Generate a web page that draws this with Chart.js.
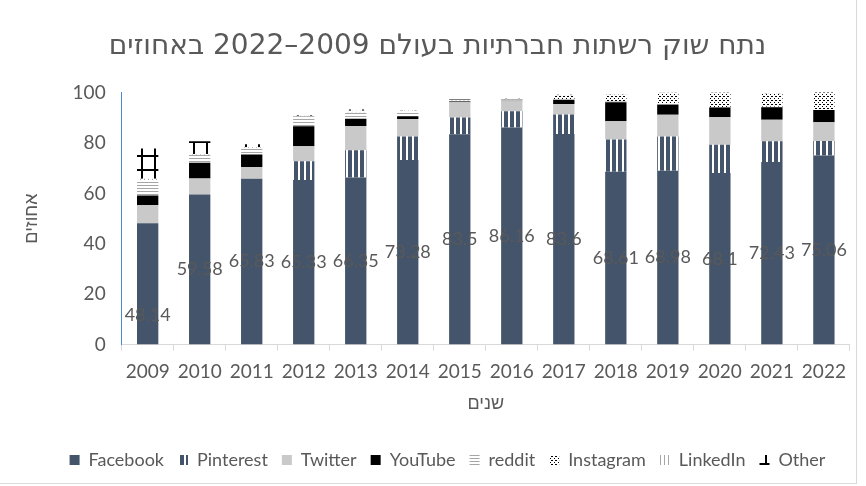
<!DOCTYPE html>
<html>
<head>
<meta charset="utf-8">
<script src="https://cdn.jsdelivr.net/npm/chart.js@4.4.1/dist/chart.umd.min.js"></script>
<style>
  body { margin: 0; background: #ffffff; }
  #wrap { position: relative; width: 856px; height: 483px; border-right: 1px solid #d9d9d9; border-bottom: 1px solid #d9d9d9; }
</style>
</head>
<body>
<div id="wrap"><canvas id="marketChart"></canvas></div>
<script>
// שנים
var years = ['2009', '2010', '2011', '2012', '2013', '2014', '2015', '2016', '2017', '2018', '2019', '2020', '2021', '2022'];

// נתח שוק לפי רשת (באחוזים)
var facebook  = [48.14, 59.58, 65.83, 65.33, 66.35, 73.28, 83.5, 86.16, 83.6, 68.61, 68.98, 68.1, 72.43, 75.06];
var pinterest = [0, 0, 0, 7.4, 10.8, 9.3, 6.6, 6.4, 7.7, 12.8, 13.6, 11.2, 8.3, 5.7];
var twitter   = [7.3, 6.3, 4.6, 6.0, 9.6, 6.9, 6.1, 4.0, 4.2, 7.2, 8.6, 11.0, 8.5, 7.5];
var youtube   = [3.7, 6.3, 5.0, 7.9, 2.9, 1.1, 0.3, 0.2, 1.7, 7.6, 4.0, 3.8, 5.0, 4.8];
var reddit    = [6.2, 3.2, 2.6, 4.0, 2.6, 2.0, 0.4, 0.3, 0.3, 0.3, 0.3, 0.2, 0.2, 0.2];
var instagram = [0, 0, 0, 0, 0.3, 0.1, 0.1, 0.1, 1.3, 2.6, 4.5, 5.7, 5.0, 7.1];
var linkedin  = [0.5, 0.3, 0.3, 0.2, 0.2, 0.2, 0.1, 0.1, 0.1, 0.1, 0.1, 0.1, 0.1, 0.1];
var other     = [12.0, 5.0, 1.2, 0.3, 0.5, 0.2, 0.2, 0.3, 0.2, 0.1, 0.1, 0.1, 0.1, 0.1];

var yTicks = [0, 20, 40, 60, 80, 100];

var titleText = 'נתח שוק רשתות חברתיות בעולם 2009–2022 באחוזים';
var yTitle = 'אחוזים';
var xTitle = 'שנים';

var grey = '#595959';

// excel-like fill patterns
function makePattern(w, h, draw) {
    var c = document.createElement('canvas');
    c.width = w;
    c.height = h;
    var g = c.getContext('2d');
    draw(g);
    return g.createPattern(c, 'repeat');
}

var pinterestFill = makePattern(6, 6, function (g) {
    g.fillStyle = '#44546a'; g.fillRect(0, 0, 6, 6);
    g.fillStyle = '#ffffff'; g.fillRect(4, 0, 2, 6);
});
var redditFill = makePattern(4, 3, function (g) {
    g.fillStyle = '#ffffff'; g.fillRect(0, 0, 4, 3);
    g.fillStyle = '#a6a6a6'; g.fillRect(0, 2, 4, 1);
});
var instagramFill = makePattern(4, 4, function (g) {
    g.fillStyle = '#ffffff'; g.fillRect(0, 0, 4, 4);
    g.fillStyle = '#000000'; g.fillRect(0, 0, 1, 1); g.fillRect(2, 2, 1, 1); g.fillRect(3, 0, 1, 1);
});
var linkedinFill = makePattern(4, 4, function (g) {
    g.fillStyle = '#ffffff'; g.fillRect(0, 0, 4, 4);
    g.fillStyle = '#a6a6a6'; g.fillRect(0, 0, 1, 4);
});
var otherFill = makePattern(13, 14, function (g) {
    g.fillStyle = '#ffffff'; g.fillRect(0, 0, 13, 14);
    g.fillStyle = '#000000'; g.fillRect(11, 0, 2, 14); g.fillRect(0, 1, 13, 2);
});

// facebook value labels in the middle of the segment
var facebookLabels = {
    id: 'facebookLabels',
    afterDatasetsDraw: function (chart) {
        var ctx = chart.ctx;
        var meta = chart.getDatasetMeta(0);
        ctx.save();
        ctx.font = '18px Lato, "Liberation Sans", sans-serif';
        ctx.fillStyle = grey;
        ctx.textAlign = 'center';
        ctx.textBaseline = 'middle';
        meta.data.forEach(function (bar, i) {
            var shift = i === 0 ? 31 : 0;
            ctx.fillText(String(facebook[i]), bar.x, (bar.y + bar.base) / 2 + shift);
        });
        ctx.restore();
    }
};

// legend sits a bit right of centre in the original
var legendNudge = {
    id: 'legendNudge',
    afterLayout: function (chart) {
        chart.legend.left += 10;
        chart.legend.right += 10;
    }
};

var ctxEl = document.getElementById('marketChart');
var marketChart = new Chart(ctxEl, {
    type: 'bar',
    data: {
        labels: years,
        datasets: [
            { label: 'Facebook', data: facebook, backgroundColor: '#44546a' },
            { label: 'Pinterest', data: pinterest, backgroundColor: pinterestFill },
            { label: 'Twitter', data: twitter, backgroundColor: '#c9c9c9' },
            { label: 'YouTube', data: youtube, backgroundColor: '#000000' },
            { label: 'reddit', data: reddit, backgroundColor: redditFill },
            { label: 'Instagram', data: instagram, backgroundColor: instagramFill },
            { label: 'LinkedIn', data: linkedin, backgroundColor: linkedinFill },
            { label: 'Other', data: other, backgroundColor: otherFill }
        ]
    },
    options: {
        responsive: true,
        maintainAspectRatio: false,
        animation: false,
        datasets: {
            bar: {
                categoryPercentage: 1,
                barPercentage: 0.41,
                borderWidth: 0
            }
        },
        layout: {
            padding: { left: 21, right: 2, top: 0, bottom: 4 }
        },
        plugins: {
            title: {
                display: true,
                text: '\u202B' + titleText + '\u202C',
                color: grey,
                font: { family: '"DejaVu Sans", "Liberation Sans", sans-serif', size: 28, weight: 'normal' },
                padding: { top: 30, bottom: 29 }
            },
            legend: {
                position: 'bottom',
                labels: {
                    color: grey,
                    boxWidth: 10,
                    boxHeight: 10,
                    padding: 14,
                    font: { family: 'Lato, "Liberation Sans", sans-serif', size: 18 }
                }
            },
            tooltip: { enabled: false }
        },
        scales: {
            x: {
                stacked: true,
                grid: {
                    offset: true,
                    drawOnChartArea: false,
                    tickLength: 6,
                    color: '#d9d9d9'
                },
                border: { color: '#d9d9d9' },
                ticks: {
                    color: grey,
                    padding: 10,
                    maxRotation: 0,
                    font: { family: 'Lato, "Liberation Sans", sans-serif', size: 19 }
                },
                title: {
                    display: true,
                    text: xTitle,
                    color: grey,
                    padding: { top: 0, bottom: 22 },
                    font: { family: '"Liberation Sans", "DejaVu Sans", sans-serif', size: 18 }
                }
            },
            y: {
                stacked: true,
                min: 0,
                max: 100,
                afterBuildTicks: function (axis) {
                    axis.ticks = yTicks.map(function (v) { return { value: v }; });
                },
                grid: { display: false },
                border: { display: true, color: '#4e86d6' },
                ticks: {
                    color: grey,
                    padding: 8,
                    font: { family: 'Lato, "Liberation Sans", sans-serif', size: 19 }
                },
                title: {
                    display: true,
                    text: yTitle,
                    color: grey,
                    padding: { top: 0, bottom: 22 },
                    font: { family: '"Liberation Sans", "DejaVu Sans", sans-serif', size: 18 }
                }
            }
        }
    },
    plugins: [facebookLabels, legendNudge]
});
</script>
</body>
</html>
